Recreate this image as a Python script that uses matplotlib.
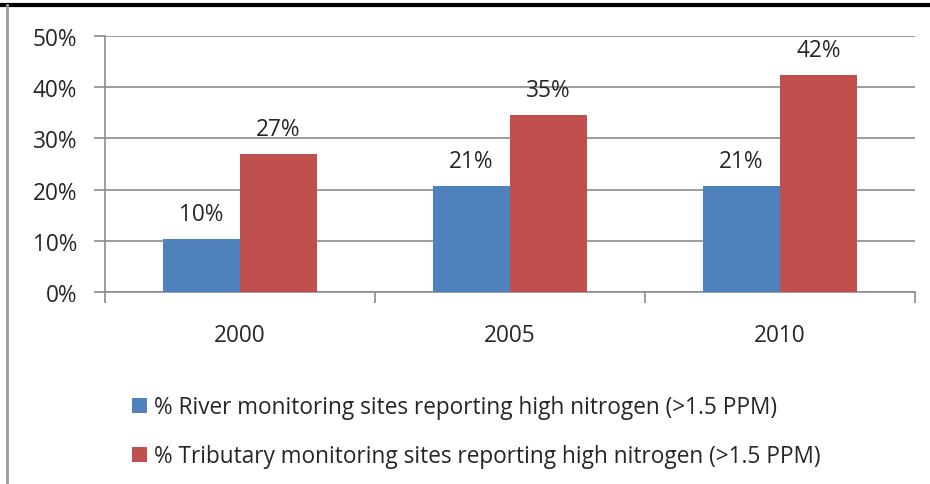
import matplotlib
matplotlib.use("Agg")
import matplotlib.pyplot as plt
from matplotlib.patches import Patch
from matplotlib.lines import Line2D
import numpy as np

plt.rcParams['font.family'] = ['Open Sans', 'DejaVu Sans']

years = ["2000", "2005", "2010"]
river = [10.4, 20.7, 20.7]
tributary = [27.0, 34.6, 42.4]
river_labels = ["10%", "21%", "21%"]
trib_labels = ["27%", "35%", "42%"]
yticks = [0, 10, 20, 30, 40, 50]
series_names = ["% River monitoring sites reporting high nitrogen (>1.5 PPM)",
                "% Tributary monitoring sites reporting high nitrogen (>1.5 PPM)"]

blue = "#4F81BD"
red = "#C0504D"
grid = "#8c8c8c"
textc = "#262626"
fs = 16.3

W, H = 930, 485
fig = plt.figure(figsize=(W / 100, H / 100), dpi=100)
ax = fig.add_axes([105 / W, 1 - 293 / H, 810 / W, (293 - 37) / H])

x = np.arange(len(years))
bw = 0.285
ax.bar(x - bw / 2, river, bw, color=blue, zorder=3)
ax.bar(x + bw / 2, tributary, bw, color=red, zorder=3)

for xi, v, lab in zip(x, river, river_labels):
    ax.text(xi - bw / 2, v + 4.8, lab, ha="center", va="center", fontsize=fs, color=textc)
for xi, v, lab in zip(x, tributary, trib_labels):
    ax.text(xi + bw / 2, v + 4.8, lab, ha="center", va="center", fontsize=fs, color=textc)

ax.set_xlim(-0.5, len(years) - 0.5)
ax.set_ylim(0, 50)
ax.set_yticks(yticks)
ax.set_yticklabels([f"{t}%" for t in yticks], fontsize=fs, color=textc)
ax.yaxis.grid(True, color=grid, linewidth=1.2, zorder=0)
ax.set_axisbelow(True)

# x ticks at category boundaries, labels at centers
ax.set_xticks(np.arange(-0.5, len(years), 1.0))
ax.set_xticklabels([])
ax.set_xticks(x, minor=True)
ax.set_xticklabels(years, minor=True, fontsize=fs, color=textc)
ax.tick_params(axis="x", which="minor", length=0, pad=22)
ax.tick_params(axis="x", which="major", length=8, color=grid, width=1.2)
ax.tick_params(axis="y", length=8, color=grid, width=1.2, pad=12)

for s in ["top", "right"]:
    ax.spines[s].set_visible(False)
for s in ["left", "bottom"]:
    ax.spines[s].set_color(grid)
    ax.spines[s].set_linewidth(1.2)

handles = [Patch(facecolor=blue, edgecolor="none"), Patch(facecolor=red, edgecolor="none")]
fig.legend(handles, series_names, loc="upper left", bbox_to_anchor=(121 / W, 1 - 385 / H),
           frameon=False, fontsize=fs, handlelength=0.65, handleheight=0.65,
           handletextpad=0.3, labelspacing=1.1, labelcolor=textc, borderpad=0)

# frame lines
fig.add_artist(Line2D([0, 1], [1 - 6 / H, 1 - 6 / H], color="black", linewidth=3, transform=fig.transFigure))
fig.add_artist(Line2D([7 / W, 7 / W], [0, 1 - 6 / H], color="#9a9a9a", linewidth=2, transform=fig.transFigure))

fig.savefig("out.png", dpi=100)
